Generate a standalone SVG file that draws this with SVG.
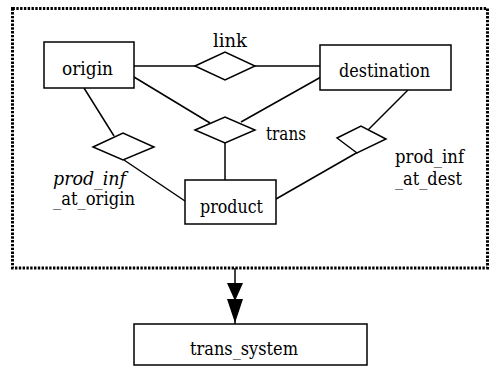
<svg xmlns="http://www.w3.org/2000/svg" width="491" height="370" viewBox="0 0 491 370">
<defs>
<style>
.box{fill:#fff;stroke:#000;stroke-width:1.5}
.dia{fill:#fff;stroke:#000;stroke-width:1.5}
.ln{fill:none;stroke:#000;stroke-width:1.5}
.t{font-family:'DejaVu Serif','Noto Serif',serif;font-size:19px;fill:#000}
.i{font-style:italic}
</style>
</defs>
<rect x="0" y="0" width="491" height="370" fill="#fff"/>
<g id="scope">
<rect x="12.5" y="8.5" width="475" height="259.5" fill="none" stroke="#000" stroke-width="3" stroke-dasharray="2.4 1.4"/>
</g>
<g id="connectors">
<line class="ln" x1="134" y1="66" x2="195" y2="66"/>
<line class="ln" x1="255" y1="66" x2="320" y2="66"/>
<line class="ln" x1="134" y1="77" x2="210" y2="123"/>
<line class="ln" x1="321" y1="77" x2="241" y2="122"/>
<line class="ln" x1="225" y1="143" x2="225" y2="180"/>
<line class="ln" x1="84" y1="88" x2="114" y2="136"/>
<line class="ln" x1="124" y1="160" x2="185" y2="201"/>
<line class="ln" x1="408" y1="90" x2="367" y2="131"/>
<line class="ln" x1="358" y1="152" x2="276" y2="199"/>
<line class="ln" x1="235" y1="268" x2="235" y2="324"/>
<path d="M227,283 L243,283 L235,301 Z M227,299 L243,299 L235,323 Z" fill="#000"/>
</g>
<g id="origin">
<rect class="box" x="44" y="42" width="90" height="46"/>
<text class="t" x="62" y="75" textLength="51" lengthAdjust="spacingAndGlyphs">origin</text>
</g>
<g id="destination">
<rect class="box" x="320" y="45" width="131" height="45"/>
<text class="t" x="339" y="77" textLength="91" lengthAdjust="spacingAndGlyphs">destination</text>
</g>
<g id="product">
<rect class="box" x="185" y="180" width="91" height="44"/>
<text class="t" x="200" y="213" textLength="63" lengthAdjust="spacingAndGlyphs">product</text>
</g>
<g id="link">
<polygon class="dia" points="195,66 225,52 255,66 225,80"/>
<text class="t" x="213" y="47" textLength="34" lengthAdjust="spacingAndGlyphs">link</text>
</g>
<g id="trans">
<polygon class="dia" points="195,130 225,117 255,130 225,143"/>
<text class="t" x="266" y="140" textLength="40" lengthAdjust="spacingAndGlyphs">trans</text>
</g>
<g id="prod_inf_at_origin">
<polygon class="dia" points="93,147 123,133 154,147 123,160"/>
<text class="t i" x="53" y="185" textLength="73" lengthAdjust="spacingAndGlyphs">prod_inf</text>
<text class="t" x="53" y="205" textLength="82" lengthAdjust="spacingAndGlyphs">_at_origin</text>
</g>
<g id="prod_inf_at_dest">
<polygon class="dia" points="337,138 361,126 386,139 357,153"/>
<text class="t" x="395" y="163" textLength="69" lengthAdjust="spacingAndGlyphs">prod_inf</text>
<text class="t" x="395" y="185" textLength="67" lengthAdjust="spacingAndGlyphs">_at_dest</text>
</g>
<g id="trans_system">
<rect class="box" x="134" y="324" width="233" height="41"/>
<text class="t" x="190" y="355" textLength="108" lengthAdjust="spacingAndGlyphs">trans_system</text>
</g>
</svg>
